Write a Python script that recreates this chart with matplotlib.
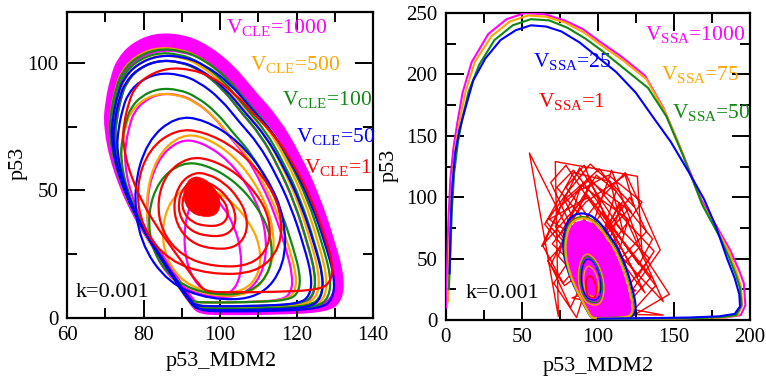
import numpy as np
import matplotlib
matplotlib.use("Agg")
import matplotlib.pyplot as plt
from matplotlib.path import Path
from matplotlib.patches import PathPatch
from matplotlib.transforms import Affine2D
from matplotlib.ticker import MultipleLocator

plt.rcParams["font.family"] = ["Liberation Serif", "DejaVu Serif"]
plt.rcParams["mathtext.fontset"] = "custom"
plt.rcParams["mathtext.rm"] = "Liberation Serif"

MAGENTA, ORANGE, GREEN, BLUE, RED = "#ff00ff", "#ffa500", "#118811", "#0000ff", "#ff0000"

# === shape of the CLE limit cycle (outer edge) ===
cycle_x = [93, 86, 77.5, 72.2, 70, 70.5, 72, 73.5, 77, 83, 90, 96, 103, 109,
           115, 120.5, 125.5, 129.5, 132, 131.5, 128, 115, 100, 95]
cycle_y = [4.4, 20, 40, 59, 75, 85, 95, 101, 107, 111, 110.5, 107, 99, 88,
           78, 64, 48, 30, 16, 7, 3, 2, 1.8, 2.2]

# shape of a small inner loop (inner magenta loop of the left panel)
inner_x = [91.3, 87.8, 86.1, 86.9, 90.4, 95.6, 101.7, 104.8, 104.8, 102.6, 99.1, 94.8]
inner_y = [49.1, 43.7, 33.2, 21.4, 12.3, 8.6, 9.0, 16.2, 26.7, 35.8, 43.7, 48.5]

# === CLE loops, box = (xmin, xmax, ymin, ymax) of each loop ===
cle_band = [(70, 132, 1.8, 111), (70.3, 131.6, 2.2, 109.6), (70.6, 131.2, 2.6, 108.2),
            (70.9, 130.8, 3.0, 106.8), (71.2, 130.4, 3.4, 105.4)]
cle_1000 = [(90.5, 105.5, 9, 49), (80.5, 112, 8, 70), (75, 119, 6, 88), (72.5, 125, 4, 101)]
cle_500 = [(84.7, 110.5, 9.7, 52), (80.4, 114, 8.4, 72), (74, 120, 6, 88),
           (72, 126, 4, 103), (71, 128, 3, 106)]
cle_100 = [(81, 113.5, 9, 61), (74, 121, 6, 90), (72.5, 125, 4.5, 101),
           (71.5, 127, 3.5, 104), (71, 129, 3, 105.5)]
cle_50 = [(77.3, 117, 7, 79), (73, 124, 4.5, 96), (72, 127, 3, 101), (71.5, 130, 2.5, 103)]
cle_1 = [(74.5, 129.5, 10, 98), (78, 116, 17, 74), (83.5, 113, 20, 63),
         (87.8, 107, 27, 57), (89, 104, 32, 54), (90, 102, 36, 52)]
cle_1_core = (90.4, 100, 39.7, 55.4)

# === SSA big excursions ===
ssa1000_x = [0.2, 0.8, 1.5, 3, 5, 7.5, 11, 17, 28, 40, 52, 65, 78, 90, 101, 116, 131, 143,
             154, 168, 180, 187, 193, 196, 197, 194, 185, 170, 150, 125, 100]
ssa1000_y = [10, 40, 75, 115, 140, 160, 185, 210, 233, 245, 250, 249, 244, 237, 227, 214,
             199, 173, 141, 98, 72, 57, 40, 30, 12, 4, 2.2, 1.8, 1.3, 1, 1]
ssa75_x = [1.5, 2, 3, 4.5, 6.5, 9, 13, 19, 30, 42, 54, 66, 79, 91, 102, 117, 132, 144,
           155, 168, 180, 186.5, 191.5, 194, 195, 192, 183, 170, 150, 125, 100]
ssa75_y = [15, 45, 80, 118, 142, 162, 186, 210, 231, 243, 248, 247, 242, 234, 224, 211,
           196, 170, 138, 96, 70, 55, 38, 28, 12, 4, 2, 1.6, 1.2, 1, 1]
ssa50_x = [2, 3, 4, 5.5, 8, 11, 15, 22, 32, 44, 56, 68, 80, 92, 103, 118, 133, 145,
           156, 169, 180, 186, 191, 193.5, 194.5, 191, 182, 170, 150, 125, 100]
ssa50_y = [25, 55, 90, 120, 145, 165, 186, 208, 228, 240, 245, 244, 238, 229, 219, 204,
           189, 166, 134, 93, 68, 52, 36, 26, 12, 4, 2.5, 1.8, 1.3, 1, 1]
ssa25_x = [2.5, 3, 4, 6, 9, 13, 18, 26, 36, 46, 56, 66, 76, 88, 100, 112, 125, 137, 148,
           160, 170, 178, 185, 190, 193, 193.5, 190, 180, 160, 130, 100]
ssa25_y = [38, 70, 105, 135, 155, 173, 195, 213, 228, 236, 240, 239, 235, 226, 214, 202,
           185, 164, 145, 120, 98, 75, 50, 34, 21, 11, 5, 3, 2, 1.5, 1]

# V_SSA=1 jumps
ssa1_x = [98, 55, 74, 72, 126, 129, 147, 121, 66, 84, 108, 117, 88, 63, 93, 135, 113, 78,
          101, 122, 96, 69, 82, 114, 143, 106, 79, 91, 119, 131, 103, 71, 86, 112, 99, 76,
          125, 138, 94, 68, 104, 116, 85, 109, 128, 97, 74, 89, 120, 102, 143, 83, 100,
          65, 80, 95, 110, 124, 118, 92, 70, 88, 107, 121, 132, 115, 90, 73, 84, 99, 113,
          127, 136, 120, 97, 77, 67, 86, 104, 118, 130, 141, 123, 101, 81, 69, 79, 93, 111,
          126, 137, 116, 95, 75, 64, 78, 96, 114, 129, 107, 87, 72, 90, 105, 119, 134, 112, 91,
          84, 101, 125, 96]
ssa1_y = [30, 136, 3, 129, 117, 55, 21, 2, 80, 120, 113, 70, 124, 60, 102, 35, 4, 98,
          123, 88, 112, 45, 10, 95, 15, 64, 108, 126, 42, 22, 88, 30, 2, 105, 118, 72,
          10, 28, 100, 82, 52, 96, 36, 122, 60, 20, 52, 110, 82, 5, 4, 18, 25,
          78, 104, 127, 110, 92, 118, 96, 62, 40, 75, 100, 72, 50, 83, 108, 122, 98, 70,
          45, 66, 90, 58, 30, 48, 74, 102, 120, 88, 57, 25, 38, 80, 112, 126, 100, 68,
          35, 56, 84, 115, 92, 60, 28, 44, 70, 96, 118, 105, 76, 46, 18, 26, 50, 78, 64,
          33, 12, 24, 42]

# SSA cluster around the fixed point, box = (xmin, xmax, ymin, ymax)
ssa_cluster = [(BLUE, (77, 125, 1.5, 87)), (GREEN, (78, 123.5, 1.5, 84)),
               (ORANGE, (78.5, 123, 1.5, 83))]
ssa_fill = (79, 122, 1.5, 81)
ssa_rings = [(ORANGE, (87, 104, 12, 54)), (GREEN, (88, 103, 14, 52)),
             (BLUE, (89, 102, 16, 50)), (ORANGE, (90.5, 100.5, 19, 44))]
ssa_core = (92, 99, 18, 36)


def smooth_path(xs, ys):
    sx = np.array(xs, float)
    sy = np.array(ys, float)
    u = (sx - sx.min()) / (sx.max() - sx.min())
    v = (sy - sy.min()) / (sy.max() - sy.min())
    pts = np.column_stack([u, v])
    mids = (pts + np.roll(pts, -1, axis=0)) / 2
    verts = [mids[-1]]
    codes = [Path.MOVETO]
    for i in range(len(pts)):
        verts += [pts[i], mids[i]]
        codes += [Path.CURVE3, Path.CURVE3]
    return Path(verts, codes)


BIG = smooth_path(cycle_x, cycle_y)
SMALL = smooth_path(inner_x, inner_y)


def draw_loop(ax, box, color, lw=1.6, fill=False, z=2, shape=None):
    x0, x1, y0, y1 = box
    if shape is None:
        shape = SMALL if (y1 - y0) < 75 else BIG
    tr = Affine2D().scale(x1 - x0, y1 - y0).translate(x0, y0) + ax.transData
    if fill:
        p = PathPatch(shape, facecolor=color, edgecolor=color, lw=0.5, zorder=z)
    else:
        p = PathPatch(shape, facecolor="none", edgecolor=color, lw=lw, zorder=z)
    p.set_transform(tr)
    ax.add_patch(p)


def style_axes(ax, xmaj, xmin, ymaj, ymin):
    ax.xaxis.set_major_locator(MultipleLocator(xmaj))
    ax.xaxis.set_minor_locator(MultipleLocator(xmin))
    ax.yaxis.set_major_locator(MultipleLocator(ymaj))
    ax.yaxis.set_minor_locator(MultipleLocator(ymin))
    ax.tick_params(which="both", direction="in", top=True, right=True, width=1.4,
                   labelsize=15, pad=6)
    ax.tick_params(which="major", length=13)
    ax.tick_params(which="minor", length=7)
    for s in ax.spines.values():
        s.set_linewidth(1.6)


fig = plt.figure(figsize=(7.66, 3.83), dpi=100)
ax1 = fig.add_axes([0.0875, 0.170, 0.3995, 0.7987])
ax2 = fig.add_axes([0.582, 0.1645, 0.397, 0.8015])

# === left panel: CLE ===
for b in cle_band:
    draw_loop(ax1, b, MAGENTA, lw=3.0, z=1, shape=BIG)
for color, boxes in [(MAGENTA, cle_1000), (ORANGE, cle_500), (GREEN, cle_100),
                     (BLUE, cle_50), (RED, cle_1)]:
    for b in boxes:
        draw_loop(ax1, b, color)
draw_loop(ax1, cle_1_core, RED, fill=True, z=3)

ax1.set_xlim(60, 140)
ax1.set_ylim(0, 120)
style_axes(ax1, 20, 10, 50, 25)
ax1.set_xlabel("p53_MDM2", fontsize=16)
ax1.set_ylabel("p53", fontsize=16)
ax1.xaxis.set_label_coords(0.503, -0.11)
ax1.yaxis.set_label_coords(-0.13, 0.506)

t1 = ax1.transAxes
ax1.text(0.52, 0.931, r"$\mathrm{V_{CLE}}$=1000", color=MAGENTA, fontsize=15.5, transform=t1)
ax1.text(0.598, 0.81, r"$\mathrm{V_{CLE}}$=500", color=ORANGE, fontsize=15.5, transform=t1)
ax1.text(0.703, 0.696, r"$\mathrm{V_{CLE}}$=100", color=GREEN, fontsize=15.5, transform=t1)
ax1.text(0.748, 0.575, r"$\mathrm{V_{CLE}}$=50", color=BLUE, fontsize=15.5, transform=t1)
ax1.text(0.775, 0.474, r"$\mathrm{V_{CLE}}$=1", color=RED, fontsize=15.5, transform=t1)
ax1.text(0.029, 0.069, "k=0.001", color="black", fontsize=16, transform=t1)

# === right panel: SSA ===
ax2.plot(ssa1_x, ssa1_y, color=RED, lw=1.0, zorder=1)
draw_loop(ax2, ssa_fill, MAGENTA, fill=True, z=2, shape=BIG)
for color, b in ssa_cluster:
    draw_loop(ax2, b, color, lw=1.6, z=3, shape=BIG)
for color, b in ssa_rings:
    draw_loop(ax2, b, color, lw=1.0, z=3, shape=SMALL)
draw_loop(ax2, ssa_core, RED, lw=1.2, z=3, shape=SMALL)

ax2.plot(ssa1000_x, ssa1000_y, color=MAGENTA, lw=1.5, zorder=4)
ax2.plot(ssa75_x, ssa75_y, color=ORANGE, lw=1.5, zorder=4)
ax2.plot(ssa50_x, ssa50_y, color=GREEN, lw=1.5, zorder=4)
ax2.plot(ssa25_x, ssa25_y, color=BLUE, lw=1.5, zorder=4)

ax2.set_xlim(0, 200)
ax2.set_ylim(0, 250)
style_axes(ax2, 50, 25, 50, 25)
ax2.set_xlabel("p53_MDM2", fontsize=16)
ax2.set_ylabel("p53", fontsize=16)
ax2.xaxis.set_label_coords(0.5, -0.12)
ax2.yaxis.set_label_coords(-0.155, 0.505)

t2 = ax2.transAxes
ax2.text(0.655, 0.912, r"$\mathrm{V_{SSA}}$=1000", color=MAGENTA, fontsize=15.5, transform=t2)
ax2.text(0.286, 0.824, r"$\mathrm{V_{SSA}}$=25", color=BLUE, fontsize=15.5, transform=t2)
ax2.text(0.707, 0.782, r"$\mathrm{V_{SSA}}$=75", color=ORANGE, fontsize=15.5, transform=t2)
ax2.text(0.303, 0.694, r"$\mathrm{V_{SSA}}$=1", color=RED, fontsize=15.5, transform=t2)
ax2.text(0.743, 0.658, r"$\mathrm{V_{SSA}}$=50", color=GREEN, fontsize=15.5, transform=t2)
ax2.text(0.066, 0.072, "k=0.001", color="black", fontsize=16, transform=t2)

fig.savefig("out.png", dpi=100)
